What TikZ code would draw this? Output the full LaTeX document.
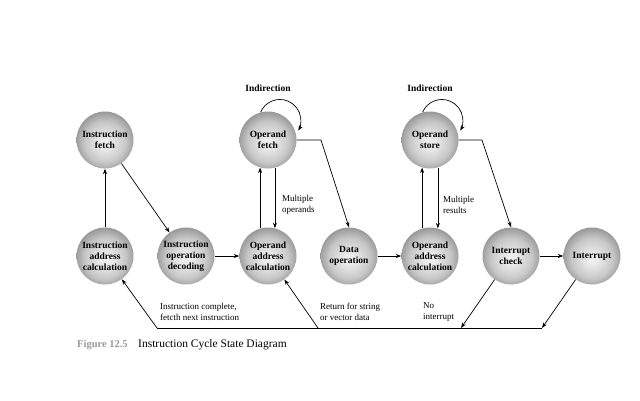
\documentclass[tikz,border=0pt]{standalone}
\usepackage{fontspec}
\setmainfont{Liberation Serif}
\usetikzlibrary{arrows.meta}
\definecolor{ballin}{gray}{0.93}
\definecolor{ballmid}{gray}{0.78}
\definecolor{ballout}{gray}{0.56}
\pgfdeclareradialshading{myball}{\pgfpoint{0bp}{-3bp}}{color(0bp)=(ballin); color(4bp)=(ballin); color(18bp)=(ballmid); color(28bp)=(ballout); color(50bp)=(ballout)}
\begin{document}
\begin{tikzpicture}[x=1pt,y=1pt,
  st/.style={circle, shade, shading=myball, minimum size=57pt, inner sep=0pt, align=center, font=\fontsize{9.5}{11}\selectfont\bfseries},
  lbl/.style={align=left, anchor=west, inner sep=0pt, font=\fontsize{9}{11}\selectfont},
  ind/.style={inner sep=0pt, font=\fontsize{9.5}{11}\selectfont\bfseries},
  ar/.style={-{Stealth[length=5.5pt,width=4pt]}, line width=0.7pt},
  ln/.style={line width=0.7pt}]
\useasboundingbox (0,0) rectangle (640,400);
\node[st] (if) at (105,260) {Instruction\\fetch};
\node[st] (of) at (268,260) {Operand\\fetch};
\node[st] (os) at (430,260) {Operand\\store};
\node[st] (iac) at (105,144) {Instruction\\address\\calculation};
\node[st] (iod) at (186,144) {Instruction\\operation\\decoding};
\node[st] (oac) at (268,144) {Operand\\address\\calculation};
\node[st] (dop) at (349,144) {Data\\operation};
\node[st] (oac2) at (430,144) {Operand\\address\\calculation};
\node[st] (ic) at (511,144) {Interrupt\\check};
\node[st] (int) at (592,144) {Interrupt};
\draw[ar] (iac) -- (if);
\draw[ar] (if) -- (iod);
\draw[ar] (iod) -- (oac);
\draw[ar] (oac.106) -- (of.254);
\draw[ar] (of.284) -- (oac.76);
\coordinate (k1) at (321,260);
\draw[ar] (of.east) -- (k1) -- (dop.north);
\draw[ar] (dop) -- (oac2);
\draw[ar] (oac2.106) -- (os.254);
\draw[ar] (os.286) -- (oac2.74);
\coordinate (k2) at (482,260);
\draw[ar] (os.east) -- (k2) -- (ic.north);
\draw[ar] (ic) -- (int);
\draw[ar] (of.105) arc[start angle=157, end angle=-29, radius=21];
\draw[ar] (os.105) arc[start angle=157, end angle=-29, radius=21];
\coordinate (b1) at (157,72);
\coordinate (b2) at (542,72);
\coordinate (b3) at (461,72);
\coordinate (b4) at (318,72);
\draw[ln] (b1) -- (b2);
\draw[ar] (int) -- (b2);
\draw[ar] (ic) -- (b3);
\draw[ar] (b1) -- (iac);
\draw[ar] (b4) -- (oac);
\node[lbl] (lmo) at (282,195) {Multiple\\operands};
\node[lbl] (lmr) at (443,195) {Multiple\\results};
\node[lbl] (lic) at (160,88) {Instruction complete,\\fetcth next instruction};
\node[lbl] (lrs) at (320,88) {Return for string\\or vector data};
\node[lbl] (lni) at (423,88) {No\\interrupt};
\node[ind] (ind1) at (268,312) {Indirection};
\node[ind] (ind2) at (430,312) {Indirection};
\node[anchor=base west, inner sep=0pt, font=\fontsize{10.5}{12}\selectfont\bfseries, text=gray!80] (cap1) at (77,53) {Figure 12.5};
\node[anchor=base west, inner sep=0pt, font=\fontsize{11.5}{13}\selectfont] (cap2) at (138,53) {Instruction Cycle State Diagram};
\end{tikzpicture}
\end{document}
